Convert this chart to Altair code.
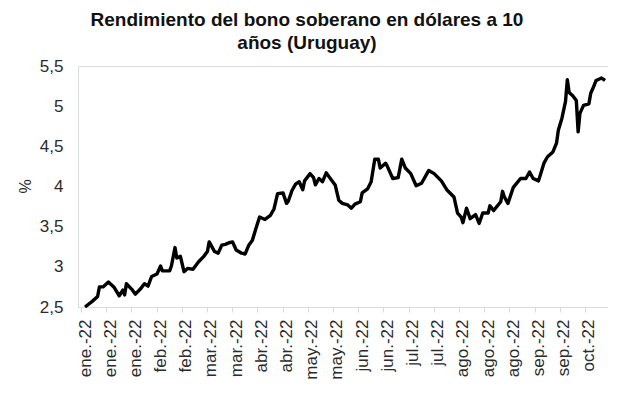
import json
import altair as alt
import pandas as pd

# day offsets from 3 Jan 2022 and yield (%)
day_offsets = [0, 4, 7, 8, 10, 13, 16, 19, 21, 22, 23, 26, 28, 31, 33, 35, 37, 40, 42, 43,
               47, 48, 50, 51, 53, 55, 57, 60, 63, 66, 68, 69, 72, 74, 76, 78, 80, 82, 84, 87,
               89, 91, 93, 95, 97, 100, 103, 105, 107, 110, 112, 113, 115, 117, 119, 121, 122, 125, 127, 128,
               130, 132, 134, 136, 139, 141, 143, 146, 148, 150, 153, 154, 157, 159, 161, 163, 164, 167, 168, 171,
               174, 176, 178, 181, 184, 187, 191, 194, 198, 201, 205, 207, 209, 210, 212, 214, 217, 219, 221, 224,
               225, 227, 231, 232, 233, 235, 238, 242, 245, 247, 249, 252, 255, 257, 260, 262, 263, 265, 267, 268,
               269, 271, 273, 274, 275, 277, 280, 281, 282, 284, 287, 289]
yields = [2.50, 2.57, 2.63, 2.75, 2.75, 2.81, 2.75, 2.64, 2.71, 2.65, 2.79, 2.72, 2.66, 2.73, 2.79, 2.76, 2.88, 2.91, 3.01, 2.95,
          2.95, 3.01, 3.24, 3.11, 3.13, 2.94, 2.98, 2.97, 3.06, 3.13, 3.19, 3.31, 3.19, 3.17, 3.27, 3.28, 3.30, 3.31, 3.21, 3.17,
          3.16, 3.27, 3.33, 3.48, 3.62, 3.59, 3.64, 3.72, 3.91, 3.92, 3.79, 3.82, 3.95, 4.03, 4.06, 3.96, 4.07, 4.16, 4.11, 4.02,
          4.10, 4.06, 4.17, 4.11, 4.02, 3.83, 3.79, 3.77, 3.73, 3.78, 3.81, 3.92, 3.97, 4.06, 4.34, 4.34, 4.23, 4.29, 4.25, 4.10,
          4.11, 4.34, 4.23, 4.16, 4.01, 4.04, 4.20, 4.16, 4.07, 3.96, 3.87, 3.67, 3.62, 3.55, 3.73, 3.60, 3.65, 3.54, 3.67, 3.67,
          3.76, 3.70, 3.81, 3.94, 3.87, 3.79, 3.99, 4.10, 4.10, 4.18, 4.10, 4.07, 4.29, 4.37, 4.43, 4.54, 4.70, 4.85, 5.06, 5.33,
          5.17, 5.13, 5.07, 4.68, 4.91, 5.01, 5.03, 5.16, 5.21, 5.32, 5.35, 5.32]

tick_days = [0, 14, 28, 42, 56, 70, 84, 98, 112, 126, 140, 154, 168, 182, 196, 210, 224, 238, 252, 266, 280]
tick_labels = ["ene.-22", "ene.-22", "ene.-22", "feb.-22", "feb.-22", "mar.-22", "mar.-22",
               "abr.-22", "abr.-22", "may.-22", "may.-22", "jun.-22", "jun.-22", "jul.-22",
               "jul.-22", "ago.-22", "ago.-22", "ago.-22", "sep.-22", "sep.-22", "oct.-22"]
y_ticks = [2.5, 3, 3.5, 4, 4.5, 5, 5.5]

df = pd.DataFrame({"dia": day_offsets, "rendimiento": yields})

FONT = "Liberation Sans"
label_expr = json.dumps(tick_labels) + "[round(datum.value/14)]"

chart = alt.Chart(df).mark_line(color="#000000", strokeWidth=3.4, strokeJoin="round").encode(
    x=alt.X("dia:Q",
            scale=alt.Scale(domain=[-3.9, 290.6], nice=False, zero=False),
            axis=alt.Axis(values=tick_days, labelExpr=label_expr, title=None, grid=False,
                          labelAngle=270, labelAlign="right", labelBaseline="middle",
                          tickOffset=-4, labelOffset=4, labelPadding=7, tickSize=5, tickColor="#d9d9d9",
                          domainColor="#d9d9d9", labelFontSize=17, labelColor="#2b2b2b",
                          labelFont=FONT, labelFlush=False, labelOverlap=False)),
    y=alt.Y("rendimiento:Q",
            scale=alt.Scale(domain=[2.5, 5.5], nice=False, zero=False),
            axis=alt.Axis(values=y_ticks, labelExpr="replace(toString(datum.value), '.', ',')",
                          title="%", grid=False, domain=False, ticks=False, tickSize=0,
                          labelPadding=15, labelFontSize=17, labelColor="#2b2b2b", labelFont=FONT,
                          titleFont=FONT, titleFontSize=16, titleFontWeight="normal", titleColor="#2b2b2b",
                          titleX=-53, titleY=120, titleAngle=270, titleAlign="center",
                          titleBaseline="middle", labelFlush=False, labelOverlap=False)),
).properties(
    width=530,
    height=241,
    title=alt.TitleParams(text=["Rendimiento del bono soberano en dólares a 10", "años (Uruguay)"],
                          font=FONT, fontSize=19, fontWeight="bold", color="#111111",
                          anchor="middle", dx=-36, offset=4, lineHeight=23),
    autosize=alt.AutoSizeParams(type="none"),
    padding={"left": 70, "top": 58, "right": 0, "bottom": 78},
).configure_view(stroke=None).configure(background="#ffffff")

chart.save("out.html", embed_options={"renderer": "svg", "actions": False})
